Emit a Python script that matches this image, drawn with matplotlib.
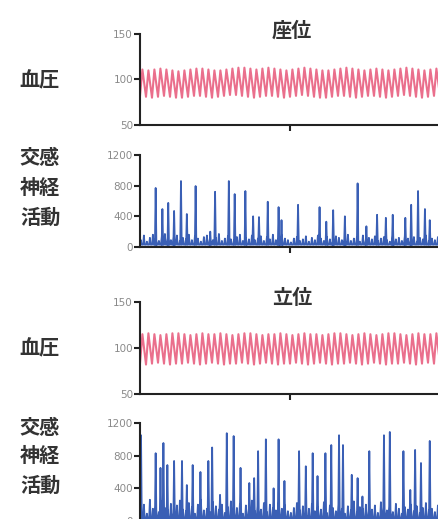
import matplotlib.pyplot as plt

plt.rcParams['font.family'] = ['Noto Sans CJK JP', 'DejaVu Sans']

# 座位 (sitting) blood pressure, per beat
sit_sys = [111, 110, 111, 112, 111, 110, 109, 110, 111, 112, 112, 111, 110, 110, 111, 112, 113,
           113, 112, 111, 112, 113, 112, 111, 110, 111, 112, 113, 112, 111, 110, 110, 111, 112,
           113, 112, 111, 110, 111, 112, 111, 110, 111, 112, 113, 112, 111, 110, 111, 112]
sit_dia = [82, 81, 80, 81, 82, 81, 80, 80, 81, 82, 82, 81, 80, 81, 82, 83, 83, 82, 81, 80, 81,
           82, 82, 81, 80, 81, 82, 83, 82, 81, 80, 80, 81, 82, 82, 81, 80, 81, 82, 82, 81, 80,
           81, 82, 83, 82, 81, 80, 81, 82]

# 立位 (standing) blood pressure, per beat
stand_sys = [115, 116, 115, 114, 115, 116, 116, 115, 114, 115, 116, 115, 115, 116, 115, 114,
             115, 116, 116, 115, 114, 115, 115, 116, 115, 114, 115, 116, 115, 115, 114, 115,
             116, 116, 115, 114, 115, 116, 115, 114, 115, 116, 116, 115, 114, 115, 116, 115,
             115, 116]
stand_dia = [83, 82, 83, 84, 83, 82, 83, 83, 84, 83, 82, 83, 84, 83, 82, 83, 83, 84, 83, 82,
             83, 84, 83, 82, 83, 83, 84, 83, 82, 83, 84, 83, 82, 83, 83, 84, 83, 82, 83, 84,
             83, 82, 83, 83, 84, 83, 82, 83, 84, 83]

# sympathetic nerve activity bursts (time s, amplitude)
sit_burst_t = [1.07, 1.53, 1.93, 2.33, 2.8, 3.2, 3.8, 4.8, 5.13, 6.07, 6.47, 7.2, 7.73, 8.13,
               8.73, 9.47, 9.67, 10.8, 12.27, 12.73, 13.2, 14.0, 14.87, 15.47, 16.2, 16.8,
               17.27, 18.13, 18.53, 19.0, 19.47, 19.8]
sit_burst_h = [770, 495, 575, 470, 860, 430, 795, 200, 720, 860, 690, 730, 400, 390, 590, 520,
               350, 550, 520, 330, 480, 400, 830, 270, 420, 380, 420, 380, 550, 730, 495, 350]
stand_burst_t = [0.07, 1.07, 1.4, 1.6, 1.87, 2.33, 2.87, 3.2, 3.6, 4.13, 4.67, 4.93, 5.47,
                 5.93, 6.4, 6.87, 7.47, 7.8, 8.07, 8.6, 9.13, 9.47, 9.87, 10.87, 11.33, 11.8,
                 12.13, 12.67, 13.07, 13.6, 13.87, 14.47, 14.87, 15.2, 15.67, 16.67, 17.07,
                 18.0, 18.47, 18.8, 19.2, 19.8]
stand_burst_h = [1050, 830, 650, 955, 685, 735, 735, 440, 685, 600, 735, 900, 320, 1075, 1040,
                 650, 465, 525, 855, 1000, 400, 1000, 490, 855, 670, 830, 550, 830, 930, 1050,
                 930, 565, 525, 300, 855, 1050, 1090, 855, 380, 870, 710, 980]

# low-level activity, two readings per beat
sit_base = [90, 150, 70, 120, 160, 100, 80, 140, 170, 110, 90, 130, 150, 80, 120, 100, 160,
            90, 140, 110, 70, 130, 150, 100, 90, 120, 170, 80, 110, 140, 100, 90, 130, 160,
            80, 120, 100, 150, 90, 110, 140, 80, 130, 100, 160, 90, 120, 150, 110, 90,
            60, 110, 130, 80, 100, 140, 70, 120, 90, 150, 110, 80, 130, 100, 70, 140, 120,
            90, 100, 160, 80, 110, 130, 70, 150, 90, 120, 100, 140, 80, 110, 130, 90, 70,
            150, 100, 120, 80, 140, 110, 90, 130, 70, 120, 100, 150, 80, 110, 90, 130]
stand_base = [120, 200, 90, 260, 150, 180, 110, 240, 160, 130, 210, 100, 190, 250, 140, 120,
              220, 170, 90, 200, 260, 130, 150, 110, 230, 180, 140, 200, 100, 170, 240, 130,
              160, 210, 90, 190, 150, 250, 120, 180, 140, 220, 110, 200, 160, 130, 240, 150,
              190, 120, 100, 160, 220, 130, 180, 90, 150, 210, 120, 170, 140, 230, 100, 190,
              160, 120, 200, 150, 90, 180, 130, 240, 110, 170, 150, 200, 120, 140, 190, 100,
              230, 160, 130, 180, 110, 210, 150, 90, 170, 140, 200, 120, 180, 100, 160, 220,
              130, 150, 110, 190]

T_END = 20.5
PINK = '#ea6f8c'
BLUE = '#3a5fb5'
TICK_GREY = '#8a8a8a'


def bp_trace(sys_vals, dia_vals):
    period = T_END / len(sys_vals)
    t, y = [], []
    for i, (s, d) in enumerate(zip(sys_vals, dia_vals)):
        t += [i * period, i * period + 0.4 * period]
        y += [d, s]
    t.append(T_END)
    y.append(dia_vals[0])
    return t, y


def sna_trace(burst_t, burst_h, base):
    period = T_END / len(base)
    events = [(i * period + 0.3 * period, b) for i, b in enumerate(base)]
    events += list(zip(burst_t, burst_h))
    events.sort()
    t, y = [], []
    for et, eh in events:
        t += [et - 0.05, et, et + 0.05]
        y += [30, eh, 30]
    return t, y


def style_axis(ax, ylim, yticks):
    ax.set_xlim(0, T_END)
    ax.set_ylim(*ylim)
    ax.set_yticks(yticks)
    ax.set_xticks([T_END / 2])
    ax.set_xticklabels([])
    for s in ['top', 'right']:
        ax.spines[s].set_visible(False)
    for s in ['left', 'bottom']:
        ax.spines[s].set_linewidth(1.5)
        ax.spines[s].set_color('#222222')
    ax.tick_params(axis='both', direction='out', length=4, width=1.5, color='#222222')
    ax.tick_params(axis='y', labelsize=7.5, labelcolor=TICK_GREY, pad=1)
    for lab in ax.get_yticklabels():
        lab.set_family(['Liberation Sans Narrow', 'DejaVu Sans'])


fig = plt.figure(figsize=(4.39, 5.19), dpi=100)
W, H = 439, 519


def add_axes(top, bottom):
    return fig.add_axes([140 / W, 1 - bottom / H, 300 / W, (bottom - top) / H])


ax1 = add_axes(34, 125)
t, y = bp_trace(sit_sys, sit_dia)
ax1.plot(t, y, color=PINK, lw=1.5)
style_axis(ax1, (50, 150), [50, 100, 150])

ax2 = add_axes(155, 247)
t, y = sna_trace(sit_burst_t, sit_burst_h, sit_base)
ax2.plot(t, y, color=BLUE, lw=1.3)
style_axis(ax2, (0, 1200), [0, 400, 800, 1200])

ax3 = add_axes(302, 394)
t, y = bp_trace(stand_sys, stand_dia)
ax3.plot(t, y, color=PINK, lw=1.5)
style_axis(ax3, (50, 150), [50, 100, 150])

ax4 = add_axes(423, 521)
t, y = sna_trace(stand_burst_t, stand_burst_h, stand_base)
ax4.plot(t, y, color=BLUE, lw=1.3)
style_axis(ax4, (0, 1200), [0, 400, 800, 1200])

label_kw = dict(fontsize=14.5, fontweight='bold', color='#333333', ha='center', va='center')
fig.text(292 / W, 1 - 30 / H, '座位', **label_kw)
fig.text(292 / W, 1 - 298 / H, '立位', **label_kw)
fig.text(40 / W, 1 - 80 / H, '血圧', **label_kw)
fig.text(40 / W, 1 - 348 / H, '血圧', **label_kw)
for yy, word in zip([158, 188, 217], ['交感', '神経', '活動']):
    fig.text(40 / W, 1 - yy / H, word, **label_kw)
for yy, word in zip([427, 456, 485], ['交感', '神経', '活動']):
    fig.text(40 / W, 1 - yy / H, word, **label_kw)

fig.savefig('out.png', dpi=100)
